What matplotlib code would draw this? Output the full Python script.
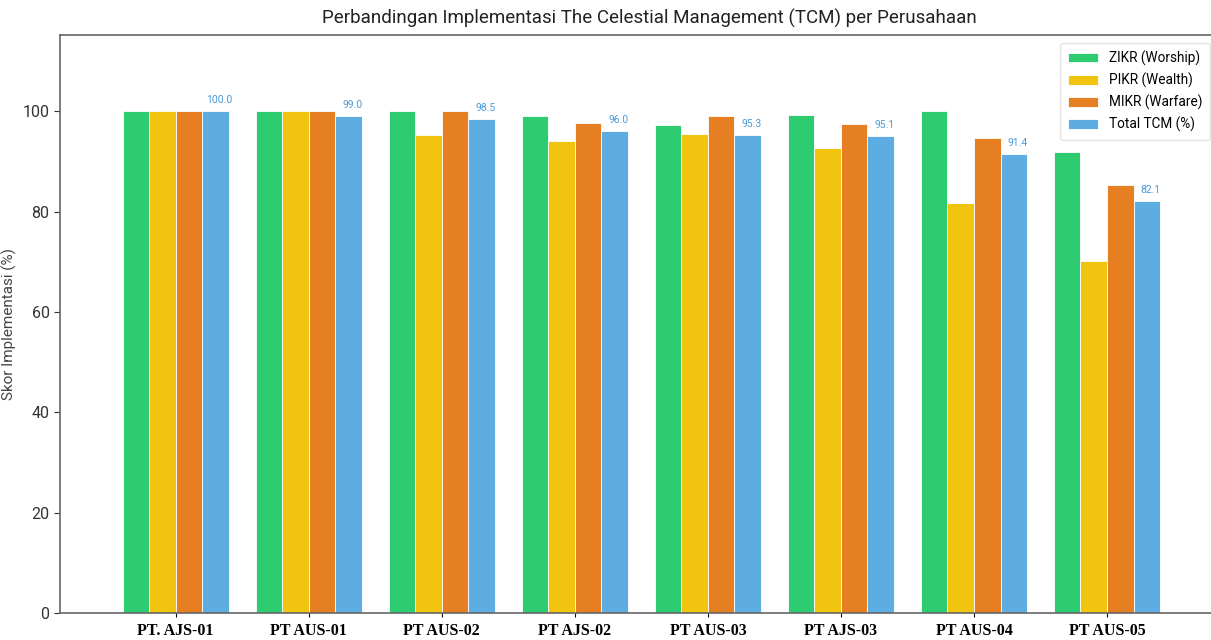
import numpy as np
import matplotlib
matplotlib.use("Agg")
import matplotlib.pyplot as plt

perusahaan = ["PT. AJS-01", "PT AUS-01", "PT AUS-02", "PT AJS-02",
              "PT AUS-03", "PT AJS-03", "PT AUS-04", "PT AUS-05"]
zikr = [100.0, 100.0, 100.0, 99.0, 97.2, 99.2, 100.0, 91.8]
pikr = [100.0, 100.0, 95.2, 94.0, 95.4, 92.6, 81.8, 70.2]
mikr = [100.0, 100.0, 100.0, 97.6, 99.0, 97.4, 94.6, 85.4]
total = [100.0, 99.0, 98.5, 96.0, 95.3, 95.1, 91.4, 82.1]

labels = ["ZIKR (Worship)", "PIKR (Wealth)", "MIKR (Warfare)", "Total TCM (%)"]
colors = ["#2ecc71", "#f1c40f", "#e67e22", "#5dade2"]

plt.rcParams['font.family'] = ['Roboto', 'DejaVu Sans']

fig = plt.figure(figsize=(12.11, 6.4), dpi=100)
ax = fig.add_axes([60 / 1211, 27 / 640, 1160 / 1211, 578 / 640])

x = np.arange(len(perusahaan))
w = 0.2
series = [zikr, pikr, mikr, total]
bars = None
for i, (vals, lab, c) in enumerate(zip(series, labels, colors)):
    bars = ax.bar(x + (i - 1.5) * w, vals, w, label=lab, color=c,
                  edgecolor="white", linewidth=0.6)

for b, v in zip(bars, total):
    ax.text(b.get_x() + b.get_width() / 2 + 0.03, v + 1.2, f"{v:.1f}",
            ha="center", va="bottom", fontsize=7.5, color="#4a9ad8")

ax.set_ylim(0, 115.2)
ax.set_xlim(-0.87, 7.85)
ax.set_yticks([0, 20, 40, 60, 80, 100])
ax.tick_params(axis="y", labelsize=11.5, colors="#333333", length=4)
ax.set_xticks(x)
ax.set_xticklabels(perusahaan, fontfamily="Liberation Serif",
                   fontweight="bold", fontsize=11.5)
ax.tick_params(axis="x", length=3, pad=4)
ax.set_ylabel("Skor Implementasi (%)", fontsize=11, color="#444444", labelpad=2)
ax.yaxis.set_label_coords(-0.037, 0.5)
ax.set_title("Perbandingan Implementasi The Celestial Management (TCM) per Perusahaan",
             fontsize=13.5, color="#222222", pad=8, x=0.508)
for s in ax.spines.values():
    s.set_color("#666666")
    s.set_linewidth(1.2)
ax.spines["right"].set_visible(False)

ax.legend(loc="upper right", fontsize=9.8, frameon=True,
          bbox_to_anchor=(0.997, 0.998), handlelength=2.2,
          borderpad=0.55, labelspacing=0.5, edgecolor="#dddddd")

fig.savefig("out.png", dpi=100)
